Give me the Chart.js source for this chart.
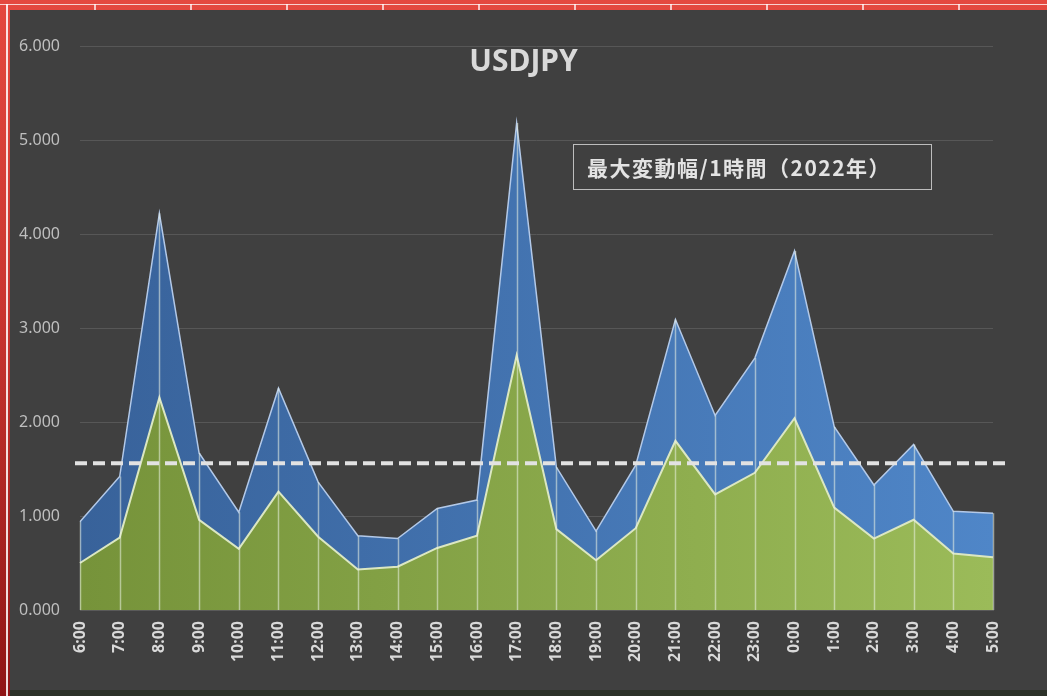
<!DOCTYPE html>
<html>
<head>
<meta charset="utf-8">
<script src="https://cdn.jsdelivr.net/npm/chart.js@4.4.1/dist/chart.umd.min.js"></script>
<style>
    html, body { margin: 0; padding: 0; }
    body {
        width: 1047px; height: 696px; overflow: hidden; position: relative;
        background: linear-gradient(180deg, #e4493f 0%, #c93530 45%, #8f1515 100%);
    }
    #topCells {
        position: absolute; left: 0; top: 4px; width: 1047px; height: 6px;
        border-top: 1px solid rgba(255,255,255,0.75);
        background: repeating-linear-gradient(90deg, transparent 0 94px, rgba(255,255,255,0.7) 94px 96px);
    }
    #leftLine { position: absolute; left: 6px; top: 4px; width: 2px; height: 692px; background: rgba(255,255,255,0.85); }
    #panel { position: absolute; left: 10px; top: 10px; width: 1037px; height: 680px; background: #404040; }
    #bottomStrip { position: absolute; left: 10px; top: 690px; width: 1037px; height: 6px; background: #2c3229; }
    #title {
        position: absolute; left: 0; top: 45px; width: 1047px; text-align: center;
        font: bold 30px "Noto Sans", "Open Sans", sans-serif; line-height: 1; color: #d9d9d9;
    }
    #note {
        position: absolute; left: 573px; top: 144px; width: 357px; height: 44px;
        border: 1.5px solid #bdbdbd; box-sizing: content-box;
        display: flex; align-items: center;
        font: bold 21px "Noto Sans CJK JP", sans-serif; color: #e3e3e3; letter-spacing: 1.5px;
    }
    #note span { margin-left: 13px; }
</style>
</head>
<body>
<div id="topCells"></div>
<div id="leftLine"></div>
<div id="panel"><canvas id="chart" width="1037" height="680"></canvas></div>
<div id="bottomStrip"></div>
<div id="title">USDJPY</div>
<div id="note"><span>最大変動幅/1時間（2022年）</span></div>
<script>
// 時間帯
const hours = ['6:00', '7:00', '8:00', '9:00', '10:00', '11:00', '12:00', '13:00', '14:00', '15:00', '16:00', '17:00',
    '18:00', '19:00', '20:00', '21:00', '22:00', '23:00', '0:00', '1:00', '2:00', '3:00', '4:00', '5:00'];
// 最大変動幅 (青)
const maxRange = [0.94, 1.42, 4.22, 1.67, 1.04, 2.36, 1.36, 0.79, 0.76, 1.08, 1.17, 5.18,
    1.52, 0.84, 1.54, 3.09, 2.07, 2.68, 3.82, 1.95, 1.33, 1.76, 1.05, 1.03];
// 平均変動幅 (緑)
const avgRange = [0.50, 0.77, 2.26, 0.96, 0.65, 1.26, 0.78, 0.43, 0.46, 0.66, 0.79, 2.71,
    0.86, 0.53, 0.87, 1.80, 1.23, 1.46, 2.04, 1.09, 0.76, 0.96, 0.60, 0.56];
// 点線の水準
const refLevel = 1.56;
const yMin = 0, yMax = 6, yStep = 1;

function hGradient(chart, c1, c2) {
    const a = chart.chartArea;
    if (!a) return c2;
    const g = chart.ctx.createLinearGradient(a.left, 0, a.right, 0);
    g.addColorStop(0, c1);
    g.addColorStop(1, c2);
    return g;
}

// 各時間の縦線と点線
const extrasPlugin = {
    id: 'extras',
    afterDatasetsDraw(chart) {
        const { ctx, scales: { x, y }, chartArea } = chart;
        ctx.save();
        ctx.strokeStyle = 'rgba(235, 242, 228, 0.55)';
        ctx.lineWidth = 1.5;
        maxRange.forEach((v, i) => {
            const px = Math.round(x.getPixelForValue(i)) + 0.5;
            ctx.beginPath();
            ctx.moveTo(px, y.getPixelForValue(v));
            ctx.lineTo(px, y.getPixelForValue(0));
            ctx.stroke();
        });
        const py = y.getPixelForValue(refLevel);
        ctx.strokeStyle = '#e2e2e2';
        ctx.lineWidth = 4;
        ctx.setLineDash([12, 6]);
        ctx.beginPath();
        ctx.moveTo(chartArea.left - 5, py);
        ctx.lineTo(chartArea.right + 17, py);
        ctx.stroke();
        ctx.restore();
    }
};

const ctx = document.getElementById('chart').getContext('2d');
new Chart(ctx, {
    type: 'line',
    data: {
        labels: hours,
        datasets: [
            {
                label: '平均',
                data: avgRange,
                fill: 'origin',
                backgroundColor: (c) => hGradient(c.chart, '#76933a', '#9bbb59'),
                borderColor: '#dbe7c2',
                borderWidth: 2,
                pointRadius: 0,
                tension: 0
            },
            {
                label: '最大',
                data: maxRange,
                fill: 'origin',
                backgroundColor: (c) => hGradient(c.chart, '#38629a', '#4f86c8'),
                borderColor: '#b3c9e8',
                borderWidth: 1.5,
                pointRadius: 0,
                tension: 0
            }
        ]
    },
    options: {
        responsive: false,
        animation: false,
        layout: { padding: { top: 36, right: 54, left: 0, bottom: 0 } },
        plugins: { legend: { display: false }, tooltip: { enabled: false } },
        scales: {
            x: {
                offset: false,
                grid: { display: false, drawTicks: false },
                border: { display: true, color: '#5a5a5a' },
                ticks: {
                    autoSkip: false, minRotation: 90, maxRotation: 90, padding: 11,
                    color: '#d9d9d9', font: { family: '"Noto Sans", sans-serif', size: 16, weight: 'bold' }
                },
                afterFit(scale) { scale.height = 80; scale.paddingLeft = 0; scale.paddingRight = 0; }
            },
            y: {
                min: yMin, max: yMax,
                grid: { color: '#575757', lineWidth: 1, drawTicks: false },
                border: { display: false },
                ticks: {
                    stepSize: yStep, padding: 20, color: '#bfbfbf',
                    font: { family: '"Noto Sans", sans-serif', size: 16 },
                    callback: (v) => Number(v).toFixed(3)
                },
                afterFit(scale) { scale.width = 70; scale.paddingTop = 0; scale.paddingBottom = 0; }
            }
        }
    },
    plugins: [extrasPlugin]
});
</script>
</body>
</html>
